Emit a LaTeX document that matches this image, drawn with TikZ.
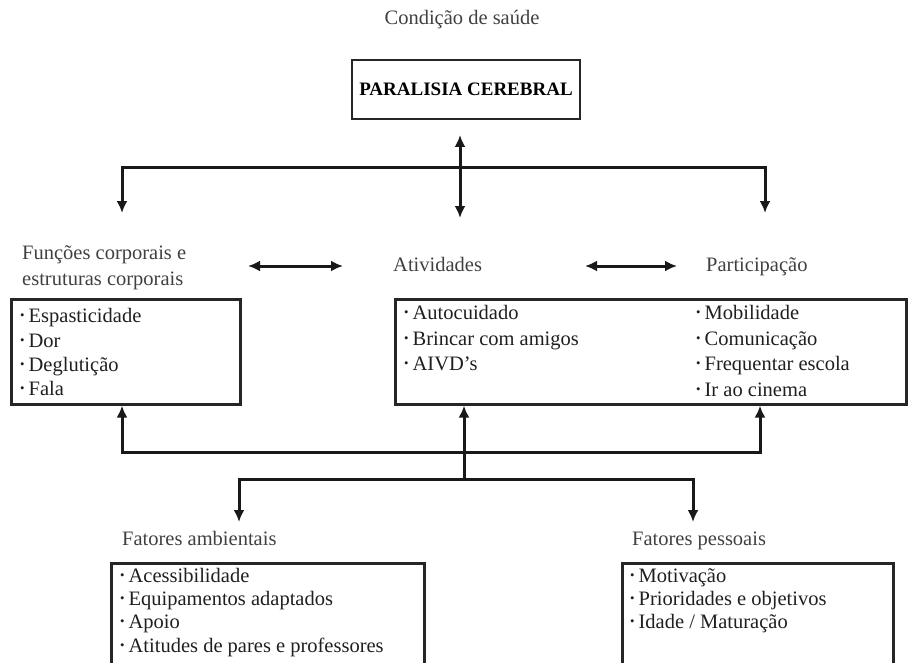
\documentclass[tikz,border=0pt]{standalone}
\usepackage{fontspec}
\setmainfont{Liberation Serif}
\usetikzlibrary{arrows.meta}
\newcommand\bl{\raisebox{0.25ex}{\scalebox{0.62}{\textbullet}}\hspace{4pt}}
\begin{document}
\begin{tikzpicture}[x=1pt,y=-1pt,
  txt/.style={inner sep=0pt,anchor=west,text=black!88,text height=14pt,text depth=4pt,font=\fontsize{20.5}{24}\selectfont},
  head/.style={inner sep=0pt,text=black!75,text height=14pt,text depth=4pt,font=\fontsize{20.5}{25}\selectfont},
  box/.style={draw=black!85,line width=2.6pt,inner sep=0pt,anchor=north west},
  con/.style={draw=black!90,line width=3pt},
  tip/.style={-{Latex[length=12pt,width=11pt]}},
  tips/.style={{Latex[length=12pt,width=11pt]}-{Latex[length=12pt,width=11pt]}}]
\useasboundingbox (0,0) rectangle (909,663);
\clip (0,0) rectangle (909,663);
% top
\node[head] (cond) at (462,20) {Condição de saúde};
\node[draw=black!85,line width=2.6pt,minimum width=228pt,minimum height=59pt,inner sep=0pt,
  font=\fontsize{19}{22}\selectfont\bfseries] (para) at (466,89.5) {PARALISIA CEREBRAL};
% labels
\node[head,anchor=west] (lfb) at (22,254) {Funções corporais e};
\node[head,anchor=west] (lfb2) at (22,280) {estruturas corporais};
\node[head,anchor=west] (lact) at (393,266) {Atividades};
\node[head,anchor=west] (lpar) at (706,266) {Participação};
% boxes
\node[box,minimum width=229pt,minimum height=105pt] (fb) at (10,298) {};
\node[box,minimum width=511pt,minimum height=105pt] (act) at (394,298) {};
\node[box,minimum width=313pt,minimum height=130pt] (amb) at (110,562) {};
\node[box,minimum width=271pt,minimum height=130pt] (pes) at (621,562) {};
% items
\node[txt] (f1) at (20,317) {\bl Espasticidade};
\node[txt] (f2) at (20,342) {\bl Dor};
\node[txt] (f3) at (20,366) {\bl Deglutição};
\node[txt] (f4) at (20,390) {\bl Fala};
\node[txt] (a1) at (404,314) {\bl Autocuidado};
\node[txt] (a2) at (404,340) {\bl Brincar com amigos};
\node[txt] (a3) at (404,365) {\bl AIVD’s};
\node[txt] (p1) at (696,314) {\bl Mobilidade};
\node[txt] (p2) at (696,340) {\bl Comunicação};
\node[txt] (p3) at (696,365) {\bl Frequentar escola};
\node[txt] (p4) at (696,391) {\bl Ir ao cinema};
\node[head,anchor=west] (lamb) at (122,540) {Fatores ambientais};
\node[head,anchor=west] (lpes) at (632,540) {Fatores pessoais};
\node[txt] (e1) at (120,577) {\bl Acessibilidade};
\node[txt] (e2) at (120,600) {\bl Equipamentos adaptados};
\node[txt] (e3) at (120,623) {\bl Apoio};
\node[txt] (e4) at (120,647) {\bl Atitudes de pares e professores};
\node[txt] (q1) at (630,577) {\bl Motivação};
\node[txt] (q2) at (630,600) {\bl Prioridades e objetivos};
\node[txt] (q3) at (630,623) {\bl Idade / Maturação};
% coordinates
\coordinate (vt) at (460,135);
\coordinate (vb) at (460,218);
\coordinate (hl) at (122,168);
\coordinate (hr) at (765,168);
\coordinate (dl) at (122,213);
\coordinate (dr) at (765,213);
\coordinate (m1a) at (248,266);
\coordinate (m1b) at (343,266);
\coordinate (m2a) at (585,266);
\coordinate (m2b) at (677,266);
\coordinate (ul) at (122,452);
\coordinate (ur) at (760,452);
\coordinate (mc) at (464,479);
\coordinate (bl) at (239,479);
\coordinate (br) at (693,479);
\coordinate (bld) at (239,522);
\coordinate (brd) at (693,522);
% connectors
\draw[con,tips] (vt) -- (vb);
\draw[con,tips] (dl) -- (hl) -- (hr) -- (dr);
\draw[con,tips] (m1a) -- (m1b);
\draw[con,tips] (m2a) -- (m2b);
\draw[con,tips] (fb.south -| ul) -- (ul) -- (ur) -- (act.south -| ur);
\draw[con,tip] (mc) -- (act.south -| mc);
\draw[con,tips] (bld) -- (bl) -- (br) -- (brd);
\end{tikzpicture}
\end{document}
